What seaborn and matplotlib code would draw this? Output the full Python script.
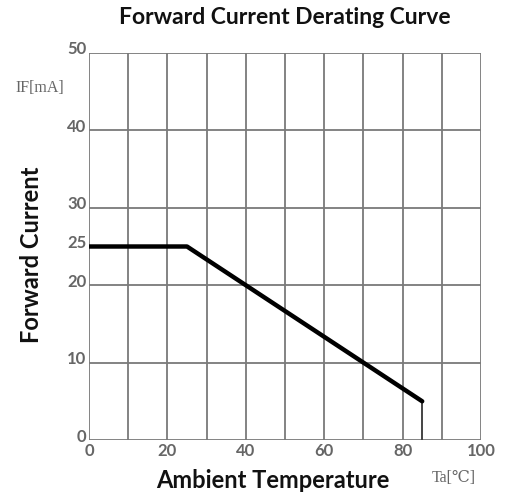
import matplotlib
matplotlib.use("Agg")
import matplotlib.pyplot as plt
import seaborn as sns
import pandas as pd
from matplotlib.transforms import ScaledTranslation

# data
temperature = [0, 25, 85]
forward_current = [25, 25, 5]
cutoff_temp = [85, 85]
cutoff_current = [5, 0]
x_ticks = [0, 20, 40, 60, 80, 100]
y_ticks = [0, 10, 20, 25, 30, 40, 50]
x_grid = [0, 10, 20, 30, 40, 50, 60, 70, 80, 90, 100]
y_grid = [0, 10, 20, 30, 40, 50]

sns.set_style("white")
plt.rcParams['font.family'] = ['Lato', 'DejaVu Sans']

fig = plt.figure(figsize=(5.12, 4.97), dpi=100)
ax = fig.add_axes([89/512, 1-440/497, 392/512, 387/497])

grid_color = "#7a7a7a"
for xv in x_grid:
    ax.axvline(xv, color=grid_color, lw=1.3, zorder=1)
for yv in y_grid:
    ax.axhline(yv, color=grid_color, lw=1.3, zorder=1)

df = pd.DataFrame({"t": temperature, "i": forward_current})
sns.lineplot(data=df, x="t", y="i", ax=ax, color="black", lw=3.2, sort=False,
             estimator=None, zorder=3)
df2 = pd.DataFrame({"t": cutoff_temp, "i": cutoff_current})
sns.lineplot(data=df2, x="t", y="i", ax=ax, color="#444444", lw=1.4, sort=False,
             estimator=None, zorder=2)

ax.set_xlim(0, 100)
ax.set_ylim(0, 50)
for s in ax.spines.values():
    s.set_visible(False)

ax.set_xticks(x_ticks)
ax.set_yticks(y_ticks)
ax.tick_params(length=0, labelsize=12, labelcolor="#666666", pad=2)
for lab in ax.get_yticklabels():
    lab.set_transform(lab.get_transform() + ScaledTranslation(0, 5/100, fig.dpi_scale_trans))
    lab.set_fontweight("bold")
for lab in ax.get_xticklabels():
    lab.set_fontweight("bold")
ax.set_xlabel("")
ax.set_ylabel("")

fig.text(285/512, 1-18/497, "Forward Current Derating Curve", ha="center", va="center",
         fontsize=16.5, fontweight="bold", color="#111111")
fig.text(32/512, 1-255/497, "Forward Current", ha="center", va="center", rotation=90,
         fontsize=17, fontweight="bold", color="#111111")
fig.text(273/512, 1-481/497, "Ambient Temperature", ha="center", va="center",
         fontsize=17, fontweight="bold", color="#111111")
fig.text(40/512, 1-88/497, "IF[mA]", ha="center", va="center", fontsize=11.5,
         color="#666666", family=["Liberation Serif", "DejaVu Serif"])
fig.text(454/512, 1-478/497, "Ta[℃]", ha="center", va="center", fontsize=11.5,
         color="#666666", family=["Liberation Serif", "DejaVu Serif", "DejaVu Sans"])

fig.savefig("out.png", dpi=100)
